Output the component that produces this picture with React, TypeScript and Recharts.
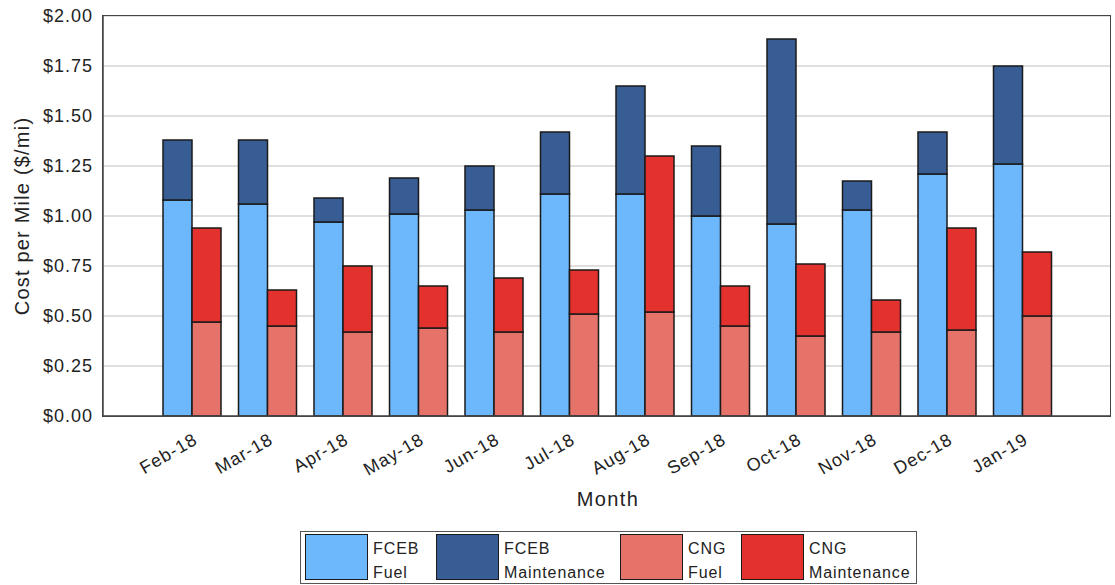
import React from 'react';
import { BarChart, Bar, XAxis, YAxis, CartesianGrid, Label } from 'recharts';

const months = ['Feb-18', 'Mar-18', 'Apr-18', 'May-18', 'Jun-18', 'Jul-18', 'Aug-18', 'Sep-18', 'Oct-18', 'Nov-18', 'Dec-18', 'Jan-19'];
const fcebFuel = [1.08, 1.06, 0.97, 1.01, 1.03, 1.11, 1.11, 1.0, 0.96, 1.03, 1.21, 1.26];
const fcebMaintenance = [0.3, 0.32, 0.12, 0.18, 0.22, 0.31, 0.54, 0.35, 0.925, 0.145, 0.21, 0.49];
const cngFuel = [0.47, 0.45, 0.42, 0.44, 0.42, 0.51, 0.52, 0.45, 0.4, 0.42, 0.43, 0.5];
const cngMaintenance = [0.47, 0.18, 0.33, 0.21, 0.27, 0.22, 0.78, 0.2, 0.36, 0.16, 0.51, 0.32];
const yTicks = [0, 0.25, 0.5, 0.75, 1.0, 1.25, 1.5, 1.75, 2.0];

const COLORS = {
  fcebFuel: '#6db7fc',
  fcebMaint: '#385c94',
  cngFuel: '#e6736a',
  cngMaint: '#e3322e',
};

const legendItems = [
  { top: 'FCEB', bottom: 'Fuel', color: COLORS.fcebFuel, x: 4 },
  { top: 'FCEB', bottom: 'Maintenance', color: COLORS.fcebMaint, x: 135 },
  { top: 'CNG', bottom: 'Fuel', color: COLORS.cngFuel, x: 319 },
  { top: 'CNG', bottom: 'Maintenance', color: COLORS.cngMaint, x: 440 },
];

const data = months.map((m, i) => ({
  month: m,
  fcebFuel: fcebFuel[i],
  fcebMaint: fcebMaintenance[i],
  cngFuel: cngFuel[i],
  cngMaint: cngMaintenance[i],
}));

const FONT = '"Liberation Sans", Arial, sans-serif';
const TEXT = '#222';

const XTick = (props: any) => {
  const { x, y, payload } = props;
  return (
    <g transform={`translate(${x + 7},${y + 19}) rotate(-30)`}>
      <text x={0} y={0} textAnchor="end" fontSize={18} fill={TEXT} fontFamily={FONT} style={{ letterSpacing: '1px' }}>
        {payload.value}
      </text>
    </g>
  );
};

const YTick = (props: any) => {
  const { x, y, payload } = props;
  return (
    <text x={x} y={y} dy={6} textAnchor="end" fontSize={18} fill={TEXT} fontFamily={FONT} style={{ letterSpacing: '1px' }}>
      {`$${Number(payload.value).toFixed(2)}`}
    </text>
  );
};

export default function App() {
  return (
    <div style={{ position: 'absolute', left: 0, top: 0, width: 1115, height: 585, background: '#fff' }}>
      <BarChart
        width={1115}
        height={525}
        data={data}
        margin={{ top: 16, right: 5, left: 0, bottom: 0 }}
        barGap={0}
        barCategoryGap={9}
      >
        <CartesianGrid vertical={false} stroke="#d4d4d4" strokeWidth={1.5} />
        <XAxis
          dataKey="month"
          height={109}
          padding={{ left: 51, right: 50 }}
          tickLine={false}
          axisLine={{ stroke: '#444', strokeWidth: 1.5 }}
          tick={<XTick />}
          interval={0}
        >
          <Label
            content={() => (
              <text x={608} y={506} textAnchor="middle" fontSize={20} fill={TEXT} fontFamily={FONT} style={{ letterSpacing: '1.4px' }}>
                Month
              </text>
            )}
          />
        </XAxis>
        <YAxis
          width={103}
          domain={[0, 2]}
          ticks={yTicks}
          interval={0}
          tickLine={false}
          tickMargin={4}
          axisLine={{ stroke: '#444', strokeWidth: 1.5 }}
          tick={<YTick />}
        >
          <Label
            content={() => (
              <text
                x={0}
                y={0}
                transform="translate(29,216) rotate(-90)"
                textAnchor="middle"
                fontSize={20}
                fill={TEXT}
                fontFamily={FONT}
                style={{ letterSpacing: '1.2px' }}
              >
                Cost per Mile ($/mi)
              </text>
            )}
          />
        </YAxis>
        <Bar dataKey="fcebFuel" name="FCEB Fuel" stackId="fceb" fill={COLORS.fcebFuel} stroke="#1a1a1a" strokeWidth={1.5} isAnimationActive={false} />
        <Bar dataKey="fcebMaint" name="FCEB Maintenance" stackId="fceb" fill={COLORS.fcebMaint} stroke="#1a1a1a" strokeWidth={1.5} isAnimationActive={false} />
        <Bar dataKey="cngFuel" name="CNG Fuel" stackId="cng" fill={COLORS.cngFuel} stroke="#1a1a1a" strokeWidth={1.5} isAnimationActive={false} />
        <Bar dataKey="cngMaint" name="CNG Maintenance" stackId="cng" fill={COLORS.cngMaint} stroke="#1a1a1a" strokeWidth={1.5} isAnimationActive={false} />
      </BarChart>
      <div
        style={{
          position: 'absolute',
          left: 102,
          top: 15,
          width: 1007,
          height: 400,
          border: '1.5px solid #444',
          pointerEvents: 'none',
        }}
      />
      <div
        style={{
          position: 'absolute',
          left: 300,
          top: 531,
          width: 615,
          height: 51,
          border: '1.5px solid #555',
          boxSizing: 'content-box',
          fontFamily: FONT,
          fontSize: 16,
          color: TEXT,
          letterSpacing: '0.9px',
        }}
      >
        {legendItems.map((it) => (
          <div key={it.top + it.bottom} style={{ position: 'absolute', left: it.x, top: 2 }}>
            <div
              style={{
                position: 'absolute',
                left: 0,
                top: 0,
                width: 61,
                height: 44,
                background: it.color,
                border: '1.5px solid #1a1a1a',
              }}
            />
            <div style={{ position: 'absolute', left: 68, top: 3, lineHeight: '24px', whiteSpace: 'nowrap' }}>
              <div>{it.top}</div>
              <div>{it.bottom}</div>
            </div>
          </div>
        ))}
      </div>
    </div>
  );
}
